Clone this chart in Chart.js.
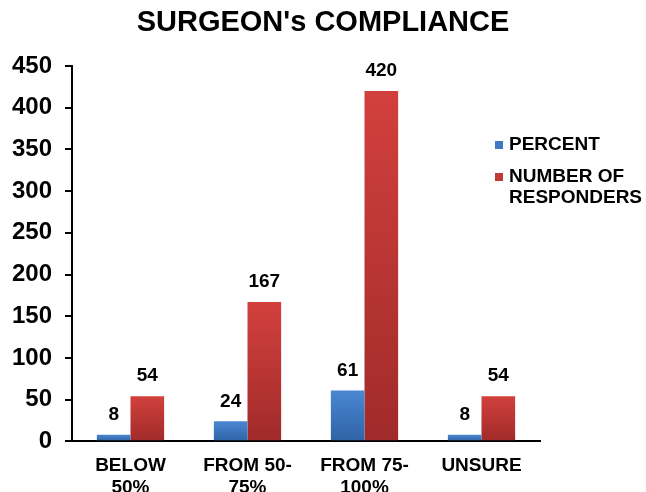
<!DOCTYPE html>
<html>
<head>
<meta charset="utf-8">
<script src="https://cdn.jsdelivr.net/npm/chart.js@4"></script>
<style>
  html, body { margin: 0; padding: 0; background: #fff; }
  #wrap { width: 646px; height: 492px; }
</style>
</head>
<body>
<div id="wrap"><canvas id="chart" width="646" height="492"></canvas></div>
<script>
// dados
const categories = [['BELOW', '50%'], ['FROM 50-', '75%'], ['FROM 75-', '100%'], ['UNSURE']];
const percentValues = [8, 24, 61, 8];
const responderValues = [54, 167, 420, 54];
const seriesNames = ['PERCENT', 'NUMBER OF RESPONDERS'];
const legendLines = [['PERCENT'], ['NUMBER OF', 'RESPONDERS']];
const chartTitle = "SURGEON's COMPLIANCE";
const yMax = 450;
const yStep = 50;

const FONT = '"Liberation Sans", Arial, Helvetica, sans-serif';

// gradiente por barra (claro em cima, escuro embaixo)
function barGradient(top, bottom) {
  return ctx => {
    const chart = ctx.chart;
    if (!chart.chartArea || ctx.parsed == null) return top;
    const yScale = chart.scales.y;
    const y0 = yScale.getPixelForValue(ctx.parsed.y);
    const y1 = yScale.getPixelForValue(0);
    if (!isFinite(y0) || !isFinite(y1) || y0 === y1) return top;
    const g = chart.ctx.createLinearGradient(0, y0, 0, y1);
    g.addColorStop(0, top);
    g.addColorStop(1, bottom);
    return g;
  };
}

// título centrado no canvas inteiro
const canvasTitle = {
  id: 'canvasTitle',
  afterDraw(chart) {
    const ctx = chart.ctx;
    ctx.save();
    ctx.font = 'bold 29px ' + FONT;
    ctx.fillStyle = '#000';
    ctx.textAlign = 'center';
    ctx.textBaseline = 'middle';
    ctx.fillText(chartTitle, chart.width / 2, 23);
    ctx.restore();
  }
};

// rótulos de valor acima das barras
const valueLabels = {
  id: 'valueLabels',
  afterDatasetsDraw(chart) {
    const ctx = chart.ctx;
    ctx.save();
    ctx.font = 'bold 19px ' + FONT;
    ctx.fillStyle = '#000';
    ctx.textAlign = 'center';
    ctx.textBaseline = 'middle';
    chart.data.datasets.forEach((ds, i) => {
      chart.getDatasetMeta(i).data.forEach((bar, j) => {
        ctx.fillText(ds.data[j], bar.x, bar.y - 20);
      });
    });
    ctx.restore();
  }
};

// legenda à direita
const sideLegend = {
  id: 'sideLegend',
  afterDraw(chart) {
    const ctx = chart.ctx;
    const x = chart.chartArea.right - 45;
    let y = 145;
    ctx.save();
    ctx.font = 'bold 19px ' + FONT;
    ctx.textBaseline = 'middle';
    ctx.textAlign = 'left';
    legendLines.forEach((lines, i) => {
      ctx.fillStyle = chart.data.datasets[i].legendColor;
      ctx.fillRect(x, y - 4, 8, 8);
      ctx.fillStyle = '#000';
      lines.forEach((t, k) => ctx.fillText(t, x + 14, y + k * 21));
      y += 32;
    });
    ctx.restore();
  }
};

new Chart(document.getElementById('chart').getContext('2d'), {
  type: 'bar',
  data: {
    labels: categories,
    datasets: [
      {
        label: seriesNames[0],
        data: percentValues,
        backgroundColor: barGradient('#4a87d2', '#2f63a6'),
        legendColor: '#3f79c4',
        barPercentage: 1,
        categoryPercentage: 0.575
      },
      {
        label: seriesNames[1],
        data: responderValues,
        backgroundColor: barGradient('#d2403d', '#a02b2a'),
        legendColor: '#c23a37',
        barPercentage: 1,
        categoryPercentage: 0.575
      }
    ]
  },
  options: {
    responsive: false,
    animation: false,
    layout: { padding: { left: 1, right: 106, top: 66, bottom: -13 } },
    plugins: {
      legend: { display: false },
      tooltip: { enabled: false },
      title: { display: false }
    },
    scales: {
      y: {
        min: 0,
        max: yMax,
        afterFit: scale => { scale.width = 71; },
        ticks: {
          stepSize: yStep,
          color: '#000',
          padding: 13,
          font: { family: FONT, size: 24, weight: 'bold' }
        },
        grid: { drawOnChartArea: false, drawTicks: true, tickLength: 7, color: '#000', lineWidth: 2 },
        border: { display: true, color: '#000', width: 2 }
      },
      x: {
        ticks: {
          color: '#000',
          padding: 6,
          font: { family: FONT, size: 19, weight: 'bold', lineHeight: 1.15 }
        },
        grid: { display: false },
        border: { display: true, color: '#000', width: 2 }
      }
    }
  },
  plugins: [canvasTitle, valueLabels, sideLegend]
});
</script>
</body>
</html>
